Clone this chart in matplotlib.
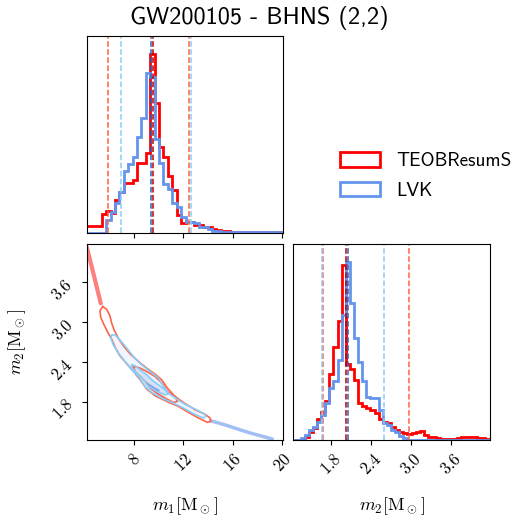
import numpy as np
import matplotlib
matplotlib.use('Agg')
import matplotlib.pyplot as plt
import matplotlib.patches as mpatches

plt.rcParams['mathtext.fontset'] = 'cm'

title = 'GW200105 - BHNS (2,2)'
names = ['TEOBResumS', 'LVK']
hist_colors = ['red', 'cornflowerblue']
q_colors = ['tomato', 'lightskyblue']
med_colors = ['#c00000', '#3060c0']

m1_range = (4.16, 20.1)
m2_range = (1.228, 4.178)
m1_ticks = [8, 12, 16, 20]
m1_ticklabels = [r'$8$', r'$12$', r'$16$', r'$20$']
m2_ticks = [1.8, 2.4, 3.0, 3.6]
m2_ticklabels = [r'$1.8$', r'$2.4$', r'$3.0$', r'$3.6$']

# histogram bins and heights (peak of each panel = 1)
m1_edges = np.linspace(3.96, 20.38, 47)
red_m1 = [0.041, 0.041, 0.041, 0.041, 0.106, 0.121, 0.110, 0.184, 0.229, 0.278,
          0.278, 0.298, 0.393, 0.393, 0.445, 1.0, 0.727, 0.478, 0.426, 0.32,
          0.24, 0.10, 0.058, 0.063, 0.063, 0.045, 0.045, 0.035, 0.035, 0.02,
          0.015, 0.012, 0.01, 0.007, 0.004, 0.004, 0.004, 0.004, 0.004, 0.004,
          0.004, 0.004, 0.004, 0.004, 0.004, 0.004]
blue_m1 = [0, 0, 0, 0, 0, 0.073, 0.119, 0.166, 0.231, 0.346,
           0.384, 0.426, 0.538, 0.640, 0.892, 0.868, 0.523, 0.389, 0.274, 0.244,
           0.169, 0.147, 0.091, 0.063, 0.063, 0.054, 0.035, 0.035, 0.025, 0.013,
           0.013, 0.008, 0.004, 0.004, 0.004, 0.004, 0.004, 0.004, 0.004, 0.004,
           0.004, 0.004, 0.004, 0.004, 0.004, 0.004]

m2_edges = np.linspace(1.2195, 4.1715, 49)
red_m2 = [0, 0, 0, 0.015, 0.047, 0.07, 0.12, 0.16, 0.22, 0.37,
          0.52, 0.67, 0.98, 0.427, 0.40, 0.337, 0.21, 0.19, 0.178, 0.168,
          0.150, 0.120, 0.103, 0.094, 0.075, 0.056, 0.045, 0.041, 0.034, 0.04,
          0.047, 0.05, 0.03, 0.015, 0.015, 0.01, 0.006, 0.006, 0.006, 0.006,
          0.01, 0.015, 0.015, 0.015, 0.015, 0.01, 0.01, 0.006]
blue_m2 = [0, 0.003, 0.01, 0.028, 0.056, 0.075, 0.10, 0.14, 0.206, 0.29,
           0.33, 0.45, 0.70, 1.0, 0.767, 0.572, 0.44, 0.33, 0.243, 0.234,
           0.234, 0.168, 0.094, 0.085, 0.056, 0.045, 0.022, 0.012, 0.003, 0,
           0, 0, 0, 0, 0, 0, 0, 0, 0, 0,
           0, 0, 0, 0, 0, 0, 0, 0]

# 5%, 50%, 95% quantiles
red_q_m1 = [5.89, 9.50, 12.46]
blue_q_m1 = [6.97, 9.34, 12.62]
red_q_m2 = [1.672, 2.026, 2.971]
blue_q_m2 = [1.657, 2.056, 2.592]

# 2D panel: contour outlines (m1, m2)
red_outer_m1 = [5.46, 5.24, 5.30, 5.57, 5.84, 6.19, 6.46, 6.86, 7.41, 7.95, 8.49, 9.03,
                9.70, 10.65, 11.59, 12.41, 13.22, 13.95, 14.22, 14.16, 13.76, 12.95,
                12.14, 11.32, 10.70, 10.24, 9.70, 9.03, 8.35, 7.68, 7.14, 6.73,
                6.38, 6.19, 6.05, 5.78, 5.46]
red_outer_m2 = [3.235, 3.175, 3.075, 2.96, 2.86, 2.745, 2.625, 2.495, 2.375, 2.26, 2.135, 1.995,
                1.895, 1.81, 1.735, 1.645, 1.56, 1.495, 1.51, 1.56, 1.615, 1.685,
                1.775, 1.885, 2.01, 2.135, 2.22, 2.31, 2.41, 2.525, 2.645, 2.76,
                2.885, 2.985, 3.095, 3.195, 3.235]
red_inner_m1 = [7.95, 8.08, 8.49, 8.89, 9.30, 9.84, 10.51, 11.19, 11.51, 11.32, 10.70,
                10.24, 9.70, 9.03, 8.49, 8.08, 7.95]
red_inner_m2 = [2.335, 2.26, 2.185, 2.11, 2.01, 1.935, 1.86, 1.795, 1.81, 1.885, 1.96,
                2.085, 2.185, 2.26, 2.31, 2.335, 2.335]
blue_outer_m1 = [6.19, 6.11, 6.32, 6.73, 7.27, 7.81, 8.35, 8.89, 9.43, 10.24, 11.19, 12.0,
                 12.81, 13.62, 13.84, 13.68, 12.95, 12.14, 11.46, 10.78, 10.38, 9.97,
                 9.30, 8.62, 7.95, 7.41, 6.86, 6.46, 6.19]
blue_outer_m2 = [2.81, 2.76, 2.66, 2.535, 2.41, 2.285, 2.185, 2.035, 1.945, 1.86, 1.785, 1.71,
                 1.625, 1.56, 1.585, 1.625, 1.695, 1.765, 1.845, 1.935, 2.035, 2.16,
                 2.26, 2.36, 2.485, 2.61, 2.735, 2.81, 2.81]
blue_inner_m1 = [7.81, 7.81, 8.22, 8.76, 9.16, 9.84, 10.51, 10.78, 10.51, 9.97, 9.43,
                 9.03, 8.49, 8.08, 7.81]
blue_inner_m2 = [2.36, 2.32, 2.235, 2.135, 2.035, 1.96, 1.91, 1.925, 1.985, 2.06, 2.135,
                 2.21, 2.285, 2.345, 2.36]
blue_core_m1 = [8.8, 9.2, 9.7, 10.1, 10.0, 9.5, 9.0, 8.8]
blue_core_m2 = [2.13, 2.08, 2.02, 1.98, 1.95, 1.99, 2.06, 2.13]
# samples outside the contours
red_tail_m1 = [4.16, 4.57, 4.97, 5.30]
red_tail_m2 = [4.135, 3.835, 3.535, 3.285]
blue_tail_m1 = [14.2, 15.5, 16.3, 17.5, 18.5, 19.2]
blue_tail_m2 = [1.52, 1.45, 1.40, 1.33, 1.28, 1.245]

fig = plt.figure(figsize=(5.19, 5.19), dpi=100)
ax_m1 = fig.add_axes([0.167, 0.551, 0.379, 0.380])
ax_2d = fig.add_axes([0.167, 0.152, 0.379, 0.378])
ax_m2 = fig.add_axes([0.5645, 0.152, 0.3796, 0.378])

# 1D histograms
for h, c, lab in [(red_m1, hist_colors[0], names[0]), (blue_m1, hist_colors[1], names[1])]:
    ax_m1.hist(m1_edges[:-1], bins=m1_edges, weights=h, histtype='step', color=c, lw=2, label=lab)
for h, c in [(red_m2, hist_colors[0]), (blue_m2, hist_colors[1])]:
    ax_m2.hist(m2_edges[:-1], bins=m2_edges, weights=h, histtype='step', color=c, lw=2)

for qs, c, mc in [(red_q_m1, q_colors[0], med_colors[0]), (blue_q_m1, q_colors[1], med_colors[1])]:
    ax_m1.axvline(qs[0], color=c, ls='--', lw=1.1)
    ax_m1.axvline(qs[1], color=mc, ls='--', lw=1.1)
    ax_m1.axvline(qs[2], color=c, ls='--', lw=1.1)
for qs, c, mc in [(red_q_m2, q_colors[0], med_colors[0]), (blue_q_m2, q_colors[1], med_colors[1])]:
    ax_m2.axvline(qs[0], color=c, ls='--', lw=1.1)
    ax_m2.axvline(qs[1], color=mc, ls='--', lw=1.1)
    ax_m2.axvline(qs[2], color=c, ls='--', lw=1.1)

ax_m1.set_xlim(m1_range)
ax_m1.set_ylim(0, 1.1 * max(max(red_m1), max(blue_m1)))
ax_m2.set_xlim(m2_range)
ax_m2.set_ylim(0, 1.1 * max(max(red_m2), max(blue_m2)))

# 2D panel
ax_2d.plot(red_tail_m1, red_tail_m2, color='red', lw=3, alpha=0.5, solid_capstyle='round')
ax_2d.plot(blue_tail_m1, blue_tail_m2, color='cornflowerblue', lw=2.5, alpha=0.6, solid_capstyle='round')
ax_2d.fill(blue_outer_m1, blue_outer_m2, color='#f1f5fd', lw=0)
ax_2d.fill(blue_inner_m1, blue_inner_m2, color='#d6e2f8', lw=0)
ax_2d.fill(blue_core_m1, blue_core_m2, color='#7fa6ec', lw=0)
ax_2d.plot(red_outer_m1, red_outer_m2, color='tomato', lw=1.2)
ax_2d.plot(red_inner_m1, red_inner_m2, color='tomato', lw=1.2)
ax_2d.plot(blue_outer_m1, blue_outer_m2, color='lightskyblue', lw=1.2)
ax_2d.plot(blue_inner_m1, blue_inner_m2, color='lightskyblue', lw=1.2)
ax_2d.set_xlim(m1_range)
ax_2d.set_ylim(m2_range)

# ticks
ax_m1.set_xticks(m1_ticks)
ax_m1.set_xticklabels([])
ax_m1.set_yticks([])
ax_2d.set_xticks(m1_ticks)
ax_2d.set_xticklabels(m1_ticklabels, rotation=45, fontsize=12)
ax_2d.set_yticks(m2_ticks)
ax_2d.set_yticklabels(m2_ticklabels, rotation=45, fontsize=12)
ax_m2.set_xticks(m2_ticks)
ax_m2.set_xticklabels(m2_ticklabels, rotation=45, fontsize=12)
ax_m2.set_yticks([])

ax_2d.set_xlabel(r'$m_1[\mathrm{M}_\odot]$', fontsize=13)
ax_2d.set_ylabel(r'$m_2[\mathrm{M}_\odot]$', fontsize=13)
ax_2d.xaxis.set_label_coords(0.5, -0.28)
ax_2d.yaxis.set_label_coords(-0.3, 0.5)
ax_m2.set_xlabel(r'$m_2[\mathrm{M}_\odot]$', fontsize=13)
ax_m2.xaxis.set_label_coords(0.5, -0.28)

handles = [mpatches.Patch(facecolor='none', edgecolor=c, lw=2, label=n) for c, n in zip(hist_colors, names)]
fig.legend(handles=handles, loc='upper left', bbox_to_anchor=(0.621, 0.74), frameon=False,
           prop={'family': 'cmss10', 'size': 13.8}, handlelength=2.1, handleheight=0.75,
           handletextpad=0.85, labelspacing=0.6)

fig.suptitle(title, x=0.5, y=0.988, va='top', fontsize=17.5, family='cmss10')

fig.savefig('out.png', dpi=100)
